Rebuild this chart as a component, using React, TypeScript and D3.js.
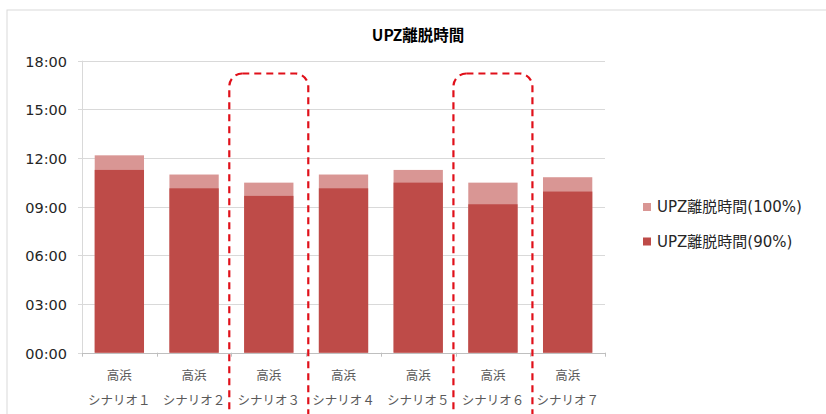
import React, { useRef, useEffect } from 'react';
import * as d3 from 'd3';

const categories = ['シナリオ１', 'シナリオ２', 'シナリオ３', 'シナリオ４', 'シナリオ５', 'シナリオ６', 'シナリオ７'];
const site = '高浜';
const full100 = ['12:10', '10:59', '10:29', '10:59', '11:16', '10:29', '10:49'];
const part90 = ['11:16', '10:08', '9:40', '10:08', '10:29', '9:09', '9:56'];
const yTicks = ['00:00', '03:00', '06:00', '09:00', '12:00', '15:00', '18:00'];
const highlighted = ['シナリオ３', 'シナリオ６'];
const seriesNames = ['UPZ離脱時間(100%)', 'UPZ離脱時間(90%)'];

const toHours = (s: string) => {
  const [h, m] = s.split(':').map(Number);
  return h + m / 60;
};

const W = 826, H = 414;
const FONT = '"Noto Sans CJK JP", "Noto Sans", sans-serif';
const WIDE = '"DejaVu Sans", "Noto Sans CJK JP", sans-serif';
const LIGHT = '#d99694';
const DARK = '#be4b48';

const App = () => {
  const ref = useRef<SVGSVGElement>(null);

  useEffect(() => {
    document.body.style.margin = '0';
    const svg = d3.select(ref.current);
    svg.selectAll('*').remove();

    const left = 82, right = 605, top = 60.7, bottom = 352.7;
    const x = d3.scaleBand().domain(categories).range([left, right]).paddingInner(0.34).paddingOuter(0.17);
    const step = x.step();
    const y = d3.scaleLinear().domain([0, 18]).range([bottom, top]);

    // outer frame
    svg.append('rect')
      .attr('x', 7).attr('y', 10).attr('width', W).attr('height', H)
      .attr('fill', '#fff').attr('stroke', '#d9d9d9');

    svg.append('text')
      .attr('x', 418).attr('y', 41)
      .attr('text-anchor', 'middle')
      .attr('font-family', FONT).attr('font-size', 15.5).attr('font-weight', 'bold')
      .attr('fill', '#000')
      .text('UPZ離脱時間');

    // gridlines + y labels
    const gy = svg.append('g');
    yTicks.forEach(t => {
      const yy = Math.round(y(toHours(t))) + 0.5;
      gy.append('line')
        .attr('x1', left - 4).attr('x2', right).attr('y1', yy).attr('y2', yy)
        .attr('stroke', '#d9d9d9');
      gy.append('text')
        .attr('x', 67).attr('y', yy).attr('dy', '0.36em')
        .attr('text-anchor', 'end')
        .attr('font-family', WIDE).attr('font-size', 14.5).attr('fill', '#262626')
        .text(t);
    });
    gy.append('line')
      .attr('x1', left + 0.5).attr('x2', left + 0.5).attr('y1', top).attr('y2', bottom)
      .attr('stroke', '#d9d9d9');

    // x axis ticks at band boundaries
    d3.range(categories.length + 1).forEach(i => {
      const xx = Math.round(left + i * step) + 0.5;
      svg.append('line')
        .attr('x1', xx).attr('x2', xx).attr('y1', bottom).attr('y2', bottom + 4)
        .attr('stroke', '#bfbfbf');
    });
    svg.append('line')
      .attr('x1', left).attr('x2', right).attr('y1', Math.round(bottom) + 0.5).attr('y2', Math.round(bottom) + 0.5)
      .attr('stroke', '#bfbfbf');

    // bars
    const bars = svg.append('g');
    bars.selectAll('rect.full')
      .data(categories)
      .join('rect')
      .attr('class', 'full')
      .attr('x', d => x(d)!)
      .attr('width', x.bandwidth())
      .attr('y', (d, i) => y(toHours(full100[i])))
      .attr('height', (d, i) => bottom - y(toHours(full100[i])))
      .attr('fill', LIGHT);
    bars.selectAll('rect.part')
      .data(categories)
      .join('rect')
      .attr('class', 'part')
      .attr('x', d => x(d)!)
      .attr('width', x.bandwidth())
      .attr('y', (d, i) => y(toHours(part90[i])))
      .attr('height', (d, i) => bottom - y(toHours(part90[i])))
      .attr('fill', DARK);

    // category labels
    const lab = svg.append('g')
      .attr('font-family', FONT).attr('font-size', 12.5).attr('fill', '#595959')
      .attr('text-anchor', 'middle');
    categories.forEach(c => {
      const cx = x(c)! + x.bandwidth() / 2;
      lab.append('text').attr('x', cx).attr('y', 380).text(site);
      lab.append('text').attr('x', cx).attr('y', 405).text(c);
    });

    // highlight boxes
    highlighted.forEach(c => {
      const cx = x(c)! + x.bandwidth() / 2;
      svg.append('rect')
        .attr('x', cx - 39.5).attr('y', 73.5)
        .attr('width', 79).attr('height', 380)
        .attr('rx', 13).attr('ry', 13)
        .attr('fill', 'none')
        .attr('stroke', '#e0101a').attr('stroke-width', 2.2)
        .attr('stroke-dasharray', '7 5');
    });

    // legend
    const leg = svg.append('g');
    [LIGHT, DARK].forEach((col, i) => {
      const ly = 207 + i * 34.5;
      leg.append('rect')
        .attr('x', 643).attr('y', ly - 4).attr('width', 8).attr('height', 8)
        .attr('fill', col);
      leg.append('text')
        .attr('x', 657).attr('y', ly).attr('dy', '0.36em')
        .attr('font-family', WIDE).attr('font-size', 15).attr('fill', '#262626')
        .text(seriesNames[i]);
    });
  }, []);

  return (
    <svg ref={ref} width={W} height={H}
      style={{ display: 'block', position: 'absolute', left: 0, top: 0, background: '#fff' }} />
  );
};

export default App;
